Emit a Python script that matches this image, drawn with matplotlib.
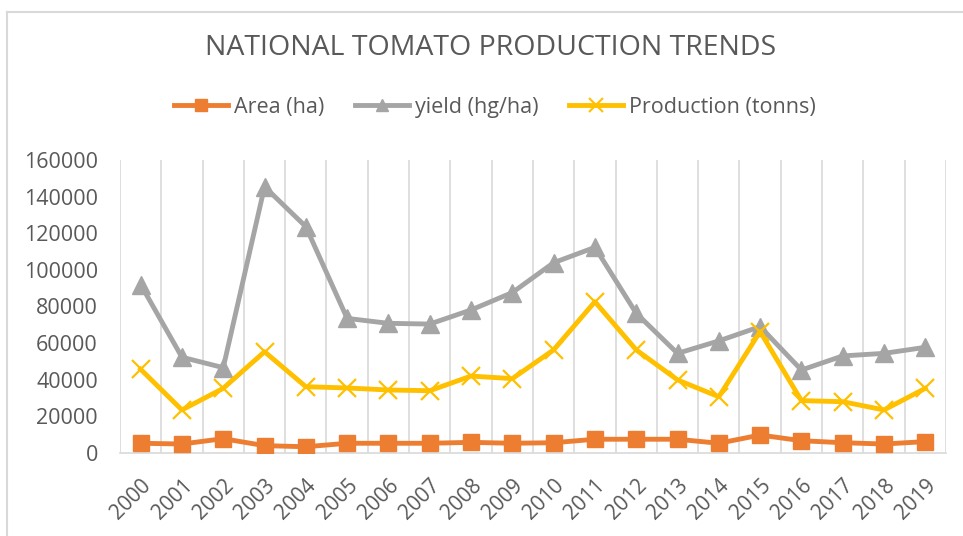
import matplotlib.pyplot as plt
from matplotlib.lines import Line2D

years = [str(y) for y in range(2000, 2020)]

# values
area = [5300, 4900, 7800, 4000, 3400, 5300, 5300, 5300, 5800, 5300,
        5600, 7500, 7500, 7500, 5300, 9800, 6700, 5600, 4900, 6200]
yield_hg = [92000, 52300, 46600, 145400, 123600, 73500, 70800, 70400, 78100, 87600,
            103900, 112300, 76300, 54400, 61200, 69000, 45300, 53000, 54400, 57700]
production = [45700, 23500, 35300, 55300, 36200, 35500, 34400, 34000, 42000, 40600,
              56300, 82600, 56300, 39900, 30700, 66300, 28600, 28000, 23500, 35300]

orange = '#ED7D31'
grey = '#A5A5A5'
gold = '#FFC000'
txt = '#595959'

plt.rcParams['font.family'] = ['Open Sans', 'DejaVu Sans']

fig = plt.figure(figsize=(9.63, 5.36), dpi=100)
ax = fig.add_axes([0.1246, 0.1549, 0.8577, 0.5466])

x = list(range(len(years)))
ax.plot(x, area, color=orange, lw=3.5, marker='s', ms=12, label='Area (ha)', zorder=3)
ax.plot(x, yield_hg, color=grey, lw=3.5, marker='^', ms=13, label='yield (hg/ha)', zorder=3)
ax.plot(x, production, color=gold, lw=3.5, marker='x', ms=13, mew=1.6,
        label='Production (tonns)', zorder=3)

ax.set_xlim(-0.5, len(years) - 0.5)
ax.set_ylim(0, 160000)
ax.set_yticks(range(0, 160001, 20000))
ax.set_xticks(x)
ax.set_xticklabels(years, rotation=45, ha='right', rotation_mode='anchor')

# category gridlines sit between the points
for g in range(len(years) + 1):
    ax.axvline(g - 0.5, color='#D9D9D9', lw=1.2, zorder=1)

for s in ['top', 'right', 'left']:
    ax.spines[s].set_visible(False)
ax.spines['bottom'].set_color('#D9D9D9')
ax.spines['bottom'].set_linewidth(1.2)
ax.tick_params(axis='both', length=0, labelsize=15.5, labelcolor=txt)
ax.tick_params(axis='y', pad=16)
ax.tick_params(axis='x', labelsize=15, pad=16)

fig.text(0.509, 0.91, 'NATIONAL TOMATO PRODUCTION TRENDS', ha='center', va='center',
         fontsize=20.5, color=txt)

handles = [
    Line2D([], [], color=orange, lw=3.5, marker='s', ms=9),
    Line2D([], [], color=grey, lw=3.5, marker='^', ms=9),
    Line2D([], [], color=gold, lw=3.5, marker='x', ms=10, mew=1.5),
]
fig.legend(handles, ['Area (ha)', 'yield (hg/ha)', 'Production (tonns)'],
           loc='center', bbox_to_anchor=(0.514, 0.80), ncol=3, frameon=False,
           fontsize=15.5, labelcolor=txt, handlelength=2.5, handletextpad=0.3,
           columnspacing=1.4)

# chart border (only left and top edges are visible in the picture)
fig.add_artist(Line2D([7 / 963, 7 / 963], [0, 1 - 12 / 536], color='#D9D9D9', lw=1.5,
                      transform=fig.transFigure))
fig.add_artist(Line2D([7 / 963, 1], [1 - 12 / 536, 1 - 12 / 536], color='#D9D9D9', lw=1.5,
                      transform=fig.transFigure))

fig.savefig('out.png', dpi=100)
